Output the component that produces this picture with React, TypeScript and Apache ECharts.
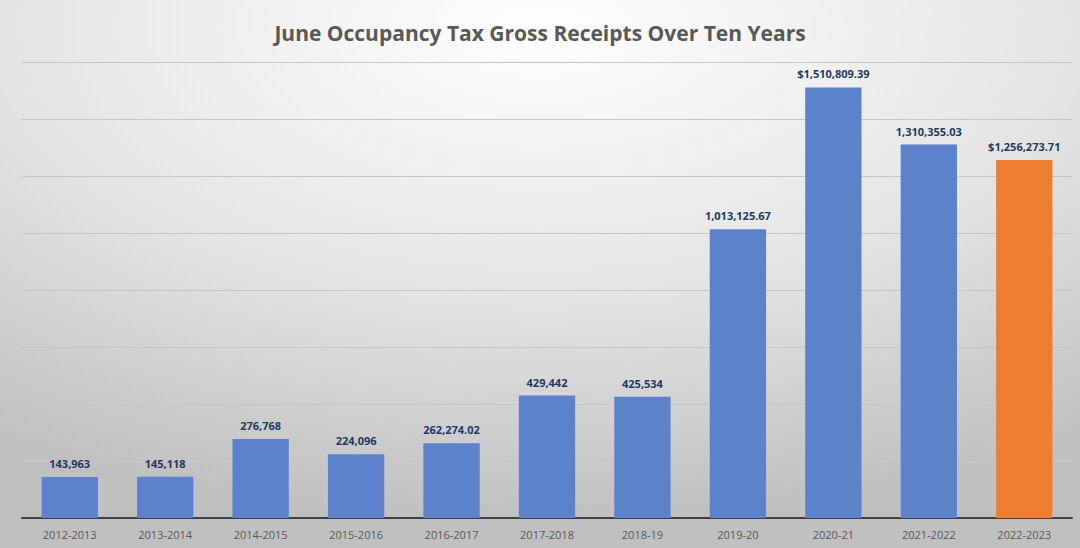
import React, { useEffect, useRef } from "react";
import * as echarts from "echarts";

const categories = [
  "2012-2013", "2013-2014", "2014-2015", "2015-2016", "2016-2017",
  "2017-2018", "2018-19", "2019-20", "2020-21", "2021-2022", "2022-2023",
];
const values = [
  143963, 145118, 276768, 224096, 262274.02,
  429442, 425534, 1013125.67, 1510809.39, 1310355.03, 1256273.71,
];
const valueLabels = [
  "143,963", "145,118", "276,768", "224,096", "262,274.02",
  "429,442", "425,534", "1,013,125.67", "$1,510,809.39", "1,310,355.03", "$1,256,273.71",
];
const highlightIndex = 10;

export default function App() {
  const ref = useRef<HTMLDivElement>(null);
  useEffect(() => {
    document.body.style.margin = "0";
    const chart = echarts.init(ref.current!, null, { renderer: "svg" });
    chart.setOption({
      animation: false,
      backgroundColor: {
        type: "radial",
        x: 0.5,
        y: 0.05,
        r: 0.9,
        colorStops: [
          { offset: 0, color: "#ffffff" },
          { offset: 0.55, color: "#e4e4e4" },
          { offset: 1, color: "#c0c0c0" },
        ],
      },
      title: {
        text: "June Occupancy Tax Gross Receipts Over Ten Years",
        left: "center",
        top: 17,
        textStyle: {
          fontFamily: "Open Sans",
          fontWeight: "bold",
          fontSize: 21,
          color: "#595959",
        },
      },
      grid: { left: 22, right: 8, top: 62, bottom: 30, containLabel: false },
      xAxis: {
        type: "category",
        data: categories,
        axisTick: { show: false },
        axisLine: { lineStyle: { color: "#404040", width: 2 } },
        axisLabel: {
          fontFamily: "Open Sans",
          fontSize: 11,
          color: "#595959",
          margin: 11,
          interval: 0,
        },
      },
      yAxis: {
        type: "value",
        min: 0,
        max: 1600000,
        interval: 200000,
        axisLabel: { show: false },
        axisLine: { show: false },
        axisTick: { show: false },
        splitLine: { lineStyle: { color: "#c6c6c6", width: 1 } },
      },
      series: [
        {
          type: "bar",
          barWidth: "59%",
          data: values.map((v, i) => ({
            value: v,
            itemStyle: { color: i === highlightIndex ? "#ED7D31" : "#5B82CB" },
            label: { formatter: valueLabels[i] },
          })),
          label: {
            show: true,
            position: "top",
            distance: 8,
            fontFamily: "Open Sans",
            fontWeight: "bold",
            fontSize: 11,
            color: "#1F3A64",
          },
        },
      ],
    });
    return () => chart.dispose();
  }, []);
  return <div ref={ref} style={{ width: 1080, height: 548 }} />;
}
